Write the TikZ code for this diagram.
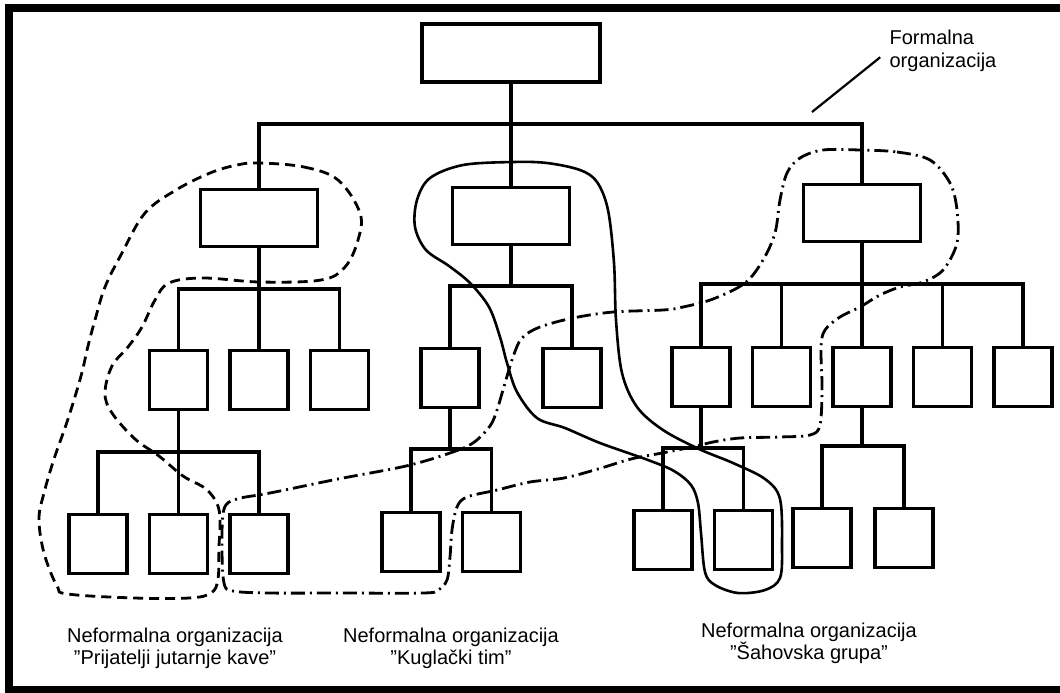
\documentclass[tikz,border=0pt]{standalone}
\usepackage{fontspec}
\setmainfont{Liberation Sans}
\begin{document}
\begin{tikzpicture}[x=0.5pt, y=-0.5pt, line width=1.6pt, node distance=40.25pt,
    block/.style={draw, minimum width=29pt, minimum height=29.5pt, inner sep=0pt},
    wideblock/.style={draw, minimum width=58.5pt, minimum height=28.5pt, inner sep=0pt},
    topblock/.style={draw, minimum width=89pt, minimum height=29pt, inner sep=0pt},
    grouptext/.style={align=center, inner sep=0pt, font=\fontsize{10}{11}\selectfont},
    coffee/.style={line width=1.4pt, dash pattern=on 5pt off 3pt},
    bowling/.style={line width=1.4pt, dash pattern=on 7pt off 2.5pt on 1pt off 2.5pt},
    chess/.style={line width=1.3pt},]
        \useasboundingbox (0,0) rectangle (1060,692);
        \draw[line width=4pt] (1070,8) -- (9,8) -- (9,690) -- (1070,690);
        \node[topblock] (ceo) at (511,53) {};
        \node[wideblock] (mgrA) at (259,218) {};
        \node[wideblock] (mgrB) at (511,216) {};
        \node[wideblock] (mgrC) at (862,213) {};
        \node[block] (a2) at (259,380) {};
        \node[block, left of=a2] (a1) {};
        \node[block, right of=a2] (a3) {};
        \node[block] (b1) at (450,378) {};
        \node[block, right of=b1, node distance=61pt] (b2) {};
        \node[block] (c3) at (862,377) {};
        \node[block, left of=c3] (c2) {};
        \node[block, left of=c2] (c1) {};
        \node[block, right of=c3] (c4) {};
        \node[block, right of=c4] (c5) {};
        \node[block] (a12) at (178.5,544) {};
        \node[block, left of=a12] (a11) {};
        \node[block, right of=a12] (a13) {};
        \node[block] (b11) at (411,542) {};
        \node[block, right of=b11] (b12) {};
        \node[block] (c11) at (663,540) {};
        \node[block, right of=c11] (c12) {};
        \node[block] (d1) at (822,538) {};
        \node[block, right of=d1, node distance=41pt] (d2) {};
        \coordinate (j0) at (511,124);
        \coordinate (j1) at (259,289);
        \coordinate (j2) at (511,286);
        \coordinate (j3) at (862,284);
        \coordinate (j4) at (178.5,452);
        \coordinate (j5) at (450,449);
        \coordinate (j6) at (701,448);
        \coordinate (j7) at (862,446);
        \draw (ceo) -- (j0);
        \draw (mgrA.north) |- (j0) -| (mgrC.north);
        \draw (j0) -- (mgrB.north);
        \draw (mgrA) -- (j1);
        \draw (a1.north) |- (j1) -| (a3.north);
        \draw (j1) -- (a2);
        \draw (mgrB) -- (j2);
        \draw (b1.north) |- (j2) -| (b2.north);
        \draw (mgrC) -- (j3);
        \draw (c1.north) |- (j3) -| (c5.north);
        \foreach \k in {c2,c3,c4} \draw (\k.north) -- (\k.north |- j3);
        \draw (a1) -- (j4);
        \draw (a11.north) |- (j4) -| (a13.north);
        \draw (j4) -- (a12);
        \draw (b1) -- (j5);
        \draw (b11.north) |- (j5) -| (b12.north);
        \draw (c1) -- (j6);
        \draw (c11.north) |- (j6) -| (c12.north);
        \draw (c3) -- (j7);
        \draw (d1.north) |- (j7) -| (d2.north);
        \draw[coffee] plot[smooth cycle, tension=0.6] coordinates {(259,163) (304,167) (338,180) (360,213)
            (358,240) (345,267) (321,280) (260,282) (203,278) (169,283) (155,300) (142,327) (128,347)
            (112,366) (105,393) (112,413) (135,439) (159,456) (183,476) (206,489) (218,506) (220,526)
            (219,546) (218,579) (211,593) (189,598) (135,598) (68,594) (57,586) (44,553) (39,519)
            (44,493) (54,459) (68,419) (81,376) (88,346) (95,320) (105,287) (122,253) (145,213)
            (176,190) (210,173) (237,165)};
        \draw[bowling] plot[smooth cycle, tension=0.55] coordinates {(860,150) (897,152) (930,160) (950,183)
            (957,210) (957,243) (943,270) (923,282) (900,287) (880,295) (860,307) (840,317) (825,330)
            (821,347) (822,387) (820,425) (810,435) (780,437) (740,438) (713,442) (697,446) (662,453)
            (631,459) (598,469) (564,478) (530,482) (497,490) (467,497) (457,507) (452,530) (450,557)
            (447,580) (438,590) (423,593) (338,593) (270,593) (233,591) (224,583) (222,546) (224,509)
            (237,499) (270,493) (338,479) (406,466) (450,453) (473,443) (490,426) (497,410) (503,390)
            (513,357) (522,338) (540,327) (573,318) (613,312) (663,310) (683,307) (713,299) (745,283)
            (763,260) (775,233) (780,200) (787,173) (800,158) (823,150)};
        \draw[chess] plot[smooth cycle, tension=0.55] coordinates {(513,162) (547,163) (580,170) (597,182)
            (608,210) (614,263) (616,320) (622,373) (637,407) (663,430) (699,449) (733,463) (765,479)
            (780,499) (782,546) (780,578) (765,590) (738,593) (715,585) (705,572) (701,533) (698,503)
            (691,485) (674,471) (648,460) (600,443) (565,428) (537,418) (517,392) (507,363) (500,337)
            (489,307) (470,283) (449,266) (426,250) (415,227) (417,200) (430,178) (463,165)};
        \node[grouptext] (coffeetxt) at (175,648) {Neformalna organizacija\\"Prijatelji jutarnje kave"};
        \node[grouptext] (bowltxt) at (451,648) {Neformalna organizacija\\"Kuglački tim"};
        \node[grouptext] (chesstxt) at (809,643) {Neformalna organizacija\\"Šahovska grupa"};
        \node[grouptext, align=left, anchor=west, font=\fontsize{10}{11.5}\selectfont] (formal) at (888,51) {Formalna\\organizacija};
        \coordinate (lead) at (812,112);
        \draw[line width=1.1pt, shorten >=5pt] (lead) -- (formal.west);
      \end{tikzpicture}
\end{document}
